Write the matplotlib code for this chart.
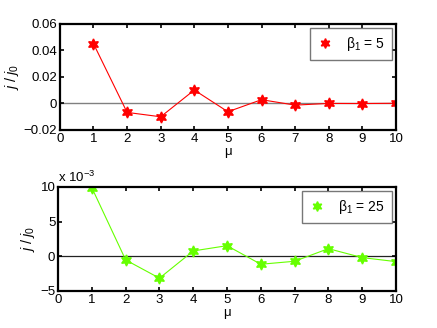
import numpy as np
import matplotlib
matplotlib.use('Agg')
from matplotlib import pyplot as plt
from matplotlib.lines import Line2D

mu = [1, 2, 3, 4, 5, 6, 7, 8, 9, 10]
j_beta5 = [0.0451, -0.0068, -0.0101, 0.0101, -0.0063, 0.0028, -0.0013, 0.0000, -0.0001, 0.0001]
j_beta25 = [9.87e-3, -0.53e-3, -3.16e-3, 0.77e-3, 1.53e-3, -1.15e-3, -0.72e-3, 1.10e-3, -0.19e-3, -0.77e-3]
labels = ['\u03b2$_1$ = 5', '\u03b2$_1$ = 25']

plt.rcParams['font.size'] = 9.5
plt.rcParams['font.family'] = 'Liberation Sans'
plt.rcParams['mathtext.fontset'] = 'custom'
plt.rcParams['mathtext.rm'] = 'Liberation Sans'
plt.rcParams['mathtext.it'] = 'Liberation Sans:italic'

fig = plt.figure(figsize=(4.37, 3.28), dpi=100)
ax1 = fig.add_axes([0.137, 0.604, 0.769, 0.323])
ax2 = fig.add_axes([0.133, 0.113, 0.773, 0.317])

hexagram = (6, 1, 0)

def style(ax):
    ax.set_xlim(0, 10)
    ax.set_xticks(range(0, 11))
    ax.tick_params(direction='in', top=True, right=True, length=3, width=1.2, pad=2)
    for s in ax.spines.values():
        s.set_linewidth(1.6)
    ax.set_xlabel('\u03bc', labelpad=1)
    ax.set_ylabel(r'$j\;/\;j_0$', labelpad=2, fontsize=10.5)

def add_legend(ax, color, label):
    h = Line2D([], [], ls='none', marker=hexagram, ms=7, mec=color, mfc=color)
    leg = ax.legend([h], [label], loc='upper right', fancybox=False,
                    edgecolor='#555555', handlelength=1.2, borderpad=0.5,
                    handletextpad=0.9, borderaxespad=0.3, fontsize=10)
    leg.get_frame().set_linewidth(1.0)

# top panel
ax1.axhline(0, color='#808080', lw=1.0, zorder=1)
ax1.plot(mu, j_beta5, color='red', lw=0.8, marker=hexagram, ms=8,
         mec='red', mfc='red')
ax1.set_ylim(-0.02, 0.06)
ax1.set_yticks([-0.02, 0, 0.02, 0.04, 0.06])
ax1.set_yticklabels(['\u22120.02', '0', '0.02', '0.04', '0.06'])
style(ax1)
add_legend(ax1, 'red', labels[0])

# bottom panel
green = '#66ff00'
ax2.axhline(0, color='#222222', lw=0.9, zorder=1)
ax2.plot(mu, np.array(j_beta25) * 1e3, color=green, lw=0.8, marker=hexagram,
         ms=8, mec=green, mfc=green)
ax2.set_ylim(-5, 10)
ax2.set_yticks([-5, 0, 5, 10])
ax2.set_yticklabels(['\u22125', '0', '5', '10'])
style(ax2)
ax2.text(0.0, 1.02, r'x 10$^{-3}$', transform=ax2.transAxes, ha='left', va='bottom')
add_legend(ax2, green, labels[1])

fig.savefig('out.png', dpi=100)
